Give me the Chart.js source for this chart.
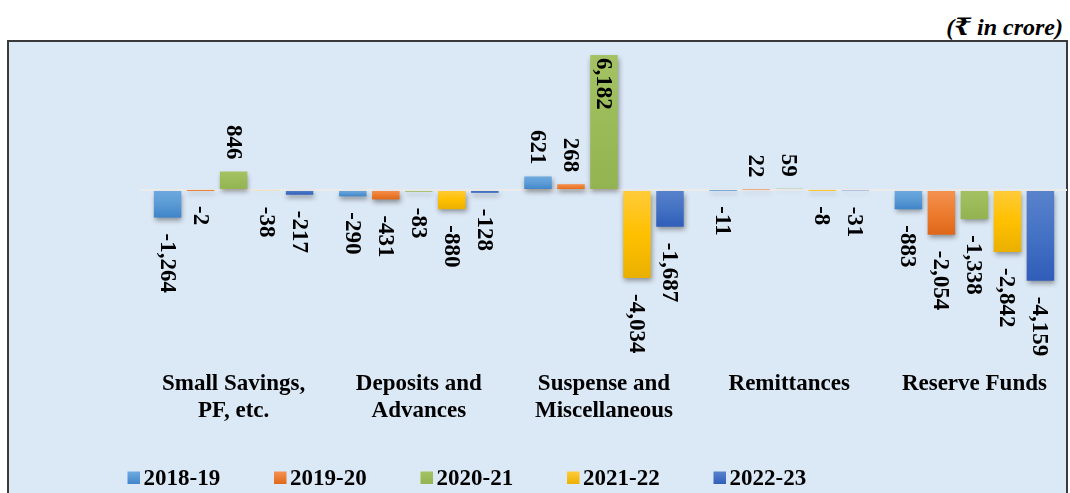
<!DOCTYPE html>
<html>
<head>
<meta charset="utf-8">
<script src="https://cdn.jsdelivr.net/npm/chart.js@4.4.1/dist/chart.umd.min.js"></script>
<style>
  html, body { margin: 0; padding: 0; background: #ffffff; overflow: hidden; }
  #wrap { position: relative; width: 1070px; height: 493px; overflow: hidden; }
  #panel { position: absolute; left: 7px; top: 40px; width: 1057px; height: 480px;
           border: 2px solid #3a3a3a; background: #dbe8f5; }
  #unit { position: absolute; right: 7px; top: 12px; font-family: "Liberation Serif", "DejaVu Serif", serif;
          font-weight: bold; font-style: italic; font-size: 24px; color: #000; white-space: nowrap; }
  #chart { position: absolute; left: 0; top: 0; }
</style>
</head>
<body>
<div id="wrap">
  <div id="panel"></div>
  <div id="unit">(₹ in crore)</div>
  <canvas id="chart" width="1070" height="493"></canvas>
</div>
<script>
// ---- data ----
const categories = [
  ["Small Savings,", "PF, etc."],
  ["Deposits and", "Advances"],
  ["Suspense and", "Miscellaneous"],
  ["Remittances"],
  ["Reserve Funds"]
];
const years = ["2018-19", "2019-20", "2020-21", "2021-22", "2022-23"];
const v2018_19 = [-1264, -290, 621, -11, -883];
const v2019_20 = [-2, -431, 268, 22, -2054];
const v2020_21 = [846, -83, 6182, 59, -1338];
const v2021_22 = [-38, -880, -4034, -8, -2842];
const v2022_23 = [-217, -128, -1687, -31, -4159];
const seriesValues = [v2018_19, v2019_20, v2020_21, v2021_22, v2022_23];

// ---- styles ----
const palette = [
  { base: "#5B9BD5", light: "#6FAAE0", dark: "#3F84C9" },
  { base: "#ED7D31", light: "#F49252", dark: "#DE6718" },
  { base: "#9BBB59", light: "#A4C263", dark: "#92B34F" },
  { base: "#FFC000", light: "#FFCB3A", dark: "#EAB000" },
  { base: "#4472C4", light: "#5A82CC", dark: "#2F5DB9" }
];
const FONT = '"Liberation Serif", "Times New Roman", serif';

function barFill(p) {
  return (ctx) => {
    const chart = ctx.chart;
    if (!chart.chartArea || ctx.type !== 'data' || !chart.scales.y) return p.base;
    const v = ctx.parsed ? ctx.parsed.y : ctx.raw;
    const y0 = chart.scales.y.getPixelForValue(0);
    const y1 = chart.scales.y.getPixelForValue(v);
    const top = Math.min(y0, y1), bot = Math.max(y0, y1);
    if (bot - top < 2) return p.base;
    const g = chart.ctx.createLinearGradient(0, top, 0, bot);
    g.addColorStop(0, p.light);
    g.addColorStop(0.5, p.base);
    g.addColorStop(1, p.dark);
    return g;
  };
}

const shadowPlugin = {
  id: 'barShadow',
  beforeDatasetsDraw(chart) {
    const c = chart.ctx;
    c.save();
    c.shadowColor = 'rgba(0,0,0,0.38)';
    c.shadowBlur = 5;
    c.shadowOffsetX = 1;
    c.shadowOffsetY = 3;
  },
  afterDatasetsDraw(chart) {
    chart.ctx.restore();
  }
};

const fmt = (v) => v.toLocaleString('en-US');

const labelPlugin = {
  id: 'rotLabels',
  afterDatasetsDraw(chart) {
    const c = chart.ctx;
    const area = chart.chartArea;
    c.save();
    c.font = 'bold 23px ' + FONT;
    c.fillStyle = '#000';
    c.textBaseline = 'middle';
    chart.data.datasets.forEach((ds, di) => {
      const meta = chart.getDatasetMeta(di);
      meta.data.forEach((bar, i) => {
        const v = ds.data[i];
        const txt = fmt(v);
        const w = c.measureText(txt).width;
        const yBase = chart.scales.y.getPixelForValue(0);
        const yEnd = bar.y;
        c.save();
        if (v >= 0) {
          const gap = 12;
          if (yEnd - gap - w < area.top) {
            c.translate(bar.x, yEnd + 3);
            c.rotate(Math.PI / 2);
            c.textAlign = 'left';
          } else {
            c.translate(bar.x, Math.min(yEnd, yBase) - gap);
            c.rotate(Math.PI / 2);
            c.textAlign = 'right';
          }
        } else {
          const gap = 16;
          c.translate(bar.x, Math.max(yEnd, yBase) + gap);
          c.rotate(Math.PI / 2);
          c.textAlign = 'left';
        }
        c.fillText(txt, 0, 1);
        c.restore();
      });
    });
    c.restore();
  }
};

const legendPlugin = {
  id: 'bottomLegend',
  afterDraw(chart) {
    const c = chart.ctx;
    c.save();
    c.font = 'bold 23px ' + FONT;
    c.textBaseline = 'middle';
    c.textAlign = 'left';
    const yc = 478;
    chart.data.datasets.forEach((ds, i) => {
      const x0 = 127.5 + i * 146.5;
      const p = palette[i];
      const g = c.createLinearGradient(0, yc - 6.5, 0, yc + 6.5);
      g.addColorStop(0, p.light); g.addColorStop(1, p.dark);
      c.fillStyle = g;
      c.fillRect(x0, yc - 6.5, 12.5, 12.5);
      c.fillStyle = '#000';
      c.fillText(ds.label, x0 + 16, yc + 1);
    });
    c.restore();
  }
};

const datasets = years.map((y, i) => ({
  label: y,
  data: seriesValues[i],
  backgroundColor: barFill(palette[i]),
  borderWidth: 0,
  categoryPercentage: 0.891,
  barPercentage: 0.833
}));

new Chart(document.getElementById('chart'), {
  type: 'bar',
  data: { labels: categories, datasets },
  plugins: [shadowPlugin, labelPlugin, legendPlugin],
  options: {
    responsive: false,
    animation: false,
    devicePixelRatio: 1,
    layout: { padding: { left: 8, right: 3, top: 50, bottom: 63 } },
    plugins: { legend: { display: false }, tooltip: { enabled: false }, title: { display: false } },
    scales: {
      x: {
        grid: { display: false },
        border: { display: false },
        afterFit: (s) => { s.height = 62; },
        ticks: {
          color: '#000',
          maxRotation: 0, minRotation: 0, autoSkip: false,
          padding: -6,
          font: { family: FONT, size: 23, weight: 'bold', lineHeight: 1.18 }
        }
      },
      y: {
        min: -8150, max: 6410,
        afterBuildTicks: (s) => { s.ticks = [{ value: 0 }]; },
        afterFit: (s) => { s.width = 133; },
        ticks: { display: false },
        border: { display: false },
        grid: { drawTicks: false, color: '#ebebeb', lineWidth: 2 }
      }
    }
  }
});
</script>
</body>
</html>
